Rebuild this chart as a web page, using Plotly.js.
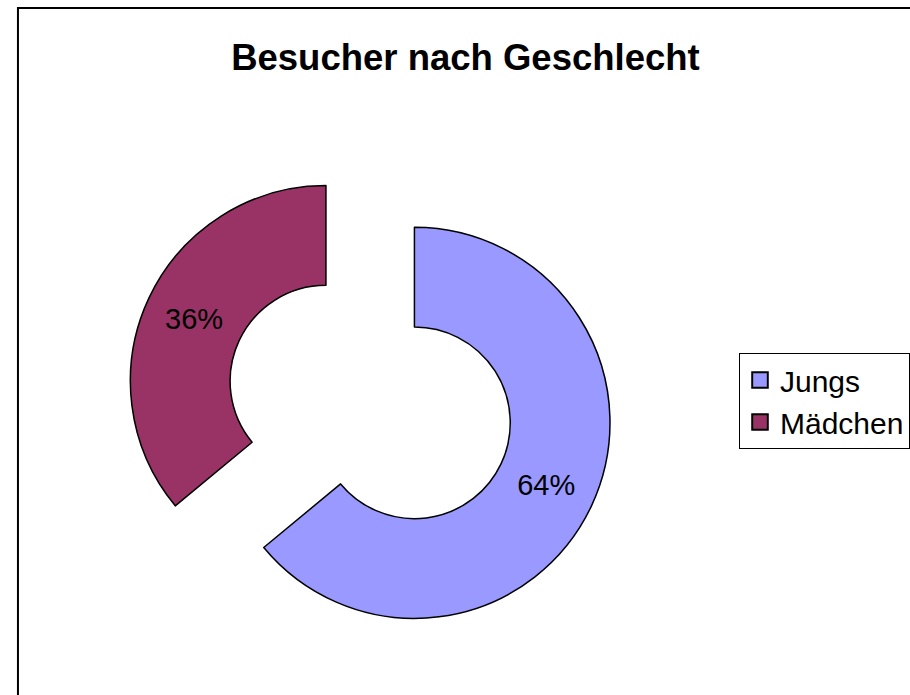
<!DOCTYPE html>
<html>
<head>
<meta charset="utf-8">
<script src="https://cdn.plot.ly/plotly-3.0.1.min.js"></script>
<style>html,body{margin:0;padding:0;background:#fff;}#chart{width:910px;height:695px;}</style>
</head>
<body>
<div id="chart"></div>
<script>
var categories = ["Jungs", "Mädchen"];
var shares = [64, 36];
var sliceColors = ["#9999FF", "#993366"];
var titleText = "Besucher nach Geschlecht";

var W = 910, H = 695;
var FONT = "'Liberation Sans', Arial, Helvetica, sans-serif";

var trace = {
  type: "pie",
  labels: categories,
  values: shares,
  sort: false,
  direction: "clockwise",
  rotation: 0,
  hole: 0.49,
  pull: [0.25, 0.25],
  marker: { colors: sliceColors, line: { color: "#000000", width: 1.5 } },
  textinfo: "percent",
  texttemplate: "%{percent:.0%}",
  textposition: "inside",
  insidetextorientation: "horizontal",
  textfont: { family: FONT, size: 29, color: "#000000" },
  hoverinfo: "label+percent",
  domain: { x: [126 / W, 616 / W], y: [48 / H, 538 / H] }
};

var layout = {
  width: W,
  height: H,
  margin: { l: 0, r: 0, t: 0, b: 0 },
  paper_bgcolor: "#ffffff",
  font: { family: FONT, color: "#000000" },
  title: {
    text: "<b>" + titleText + "</b>",
    font: { family: FONT, size: 36.5, color: "#000000" },
    x: 466.5 / W, xref: "paper", xanchor: "center",
    y: 1 - 57 / H, yref: "paper", yanchor: "middle"
  },
  showlegend: true,
  legend: {
    x: 741 / W, xanchor: "left",
    y: 1 - 401 / H, yanchor: "middle",
    bordercolor: "#000000", borderwidth: 1,
    bgcolor: "#ffffff",
    font: { family: FONT, size: 30, color: "#000000" },
    traceorder: "normal"
  },
  shapes: [
    { type: "rect", xref: "paper", yref: "paper",
      x0: 18 / W, x1: 1.05, y0: -0.05, y1: 1 - 8 / H,
      line: { color: "#000000", width: 2 }, fillcolor: "rgba(0,0,0,0)", layer: "below" }
  ]
};

Plotly.newPlot("chart", [trace], layout, { displayModeBar: false, staticPlot: true }).then(function () {
  document.querySelectorAll(".legendpoints path").forEach(function (p) {
    var t = p.getAttribute("transform") || "";
    p.setAttribute("transform", t + " scale(1.3)");
  });
});
</script>
</body>
</html>
